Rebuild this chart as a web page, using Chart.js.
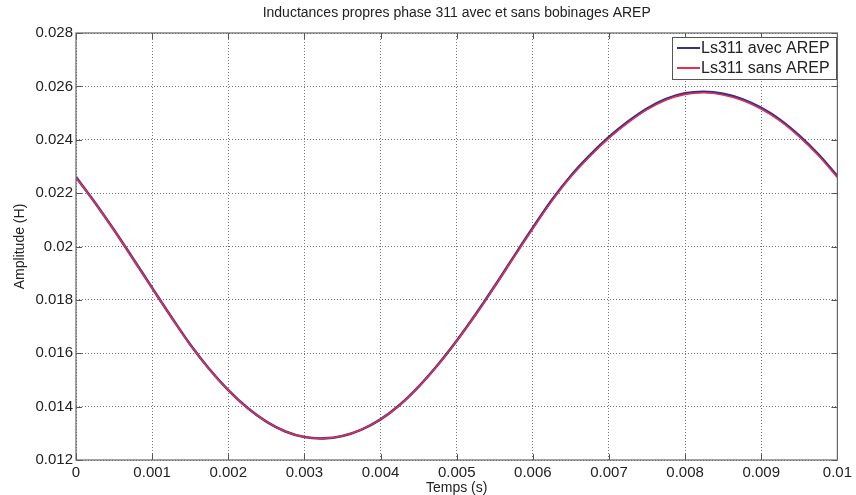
<!DOCTYPE html>
<html>
<head>
<meta charset="utf-8">
<script src="https://cdn.jsdelivr.net/npm/chart.js@4"></script>
<style>
  html, body { margin: 0; padding: 0; background: #fff; }
  #wrap { width: 856px; height: 495px; }
</style>
</head>
<body>
<div id="wrap"><canvas id="c" width="856" height="495"></canvas></div>
<script>
// ── Data (time in s, inductance in H) ──
const times = [0, 0.00025, 0.0005, 0.00075, 0.001, 0.00125, 0.0015, 0.00175, 0.002, 0.00225,
               0.0025, 0.00275, 0.003, 0.00325, 0.0035, 0.00375, 0.004, 0.00425, 0.0045, 0.00475,
               0.005, 0.00525, 0.0055, 0.00575, 0.006, 0.00625, 0.0065, 0.00675, 0.007, 0.00725,
               0.0075, 0.00775, 0.008, 0.00825, 0.0085, 0.00875, 0.009, 0.00925, 0.0095, 0.00975, 0.01];
const avecArep = [0.02260, 0.02164, 0.02062, 0.01954, 0.01845, 0.01737, 0.01633, 0.01541, 0.01462, 0.01396,
                  0.01344, 0.01307, 0.01286, 0.01281, 0.01290, 0.01314, 0.01352, 0.01406, 0.01475, 0.01556,
                  0.01647, 0.01746, 0.01852, 0.01962, 0.02070, 0.02174, 0.02265, 0.02342, 0.02410, 0.02468,
                  0.02517, 0.02553, 0.02574, 0.02580, 0.02572, 0.02552, 0.02519, 0.02474, 0.02415, 0.02345, 0.02263];
const sansArep = [0.02259, 0.02163, 0.02061, 0.01953, 0.01844, 0.01736, 0.01632, 0.01540, 0.01461, 0.01395,
                  0.01344, 0.01307, 0.01286, 0.01281, 0.01290, 0.01314, 0.01352, 0.01405, 0.01474, 0.01555,
                  0.01646, 0.01744, 0.01850, 0.01959, 0.02067, 0.02170, 0.02261, 0.02338, 0.02406, 0.02464,
                  0.02513, 0.02549, 0.02570, 0.02576, 0.02568, 0.02548, 0.02515, 0.02470, 0.02411, 0.02341, 0.02259];
const xTickValues = [0, 0.001, 0.002, 0.003, 0.004, 0.005, 0.006, 0.007, 0.008, 0.009, 0.01];
const xTickLabels = ['0', '0.001', '0.002', '0.003', '0.004', '0.005', '0.006', '0.007', '0.008', '0.009', '0.01'];
const yTickValues = [0.012, 0.014, 0.016, 0.018, 0.02, 0.022, 0.024, 0.026, 0.028];
const yTickLabels = ['0.012', '0.014', '0.016', '0.018', '0.02', '0.022', '0.024', '0.026', '0.028'];

const FONT = '"Liberation Sans", Arial, sans-serif';
const BLUE = '#2e3192';
const RED = '#e0304f';

function pts(vals) { return vals.map((v, i) => ({ x: times[i], y: v })); }

// Title, box, inward ticks and legend drawn the MATLAB way
const matlabDecor = {
  id: 'matlabDecor',
  afterDraw(chart) {
    const { ctx, chartArea: a, scales } = chart;
    ctx.save();
    // inward ticks
    ctx.strokeStyle = '#555';
    ctx.lineWidth = 1;
    ctx.beginPath();
    xTickValues.forEach(v => {
      const px = Math.round(scales.x.getPixelForValue(v)) + 0.5;
      ctx.moveTo(px, a.bottom); ctx.lineTo(px, a.bottom - 6);
      ctx.moveTo(px, a.top); ctx.lineTo(px, a.top + 6);
    });
    yTickValues.forEach(v => {
      const py = Math.round(scales.y.getPixelForValue(v)) + 0.5;
      ctx.moveTo(a.left, py); ctx.lineTo(a.left + 6, py);
      ctx.moveTo(a.right, py); ctx.lineTo(a.right - 6, py);
    });
    ctx.stroke();
    // axes box
    ctx.strokeStyle = '#666';
    ctx.lineWidth = 1.2;
    ctx.strokeRect(a.left, a.top, a.right - a.left, a.bottom - a.top);
    // title
    ctx.fillStyle = '#222';
    ctx.font = '14px ' + FONT;
    ctx.textAlign = 'center';
    ctx.textBaseline = 'middle';
    ctx.fillText('Inductances propres phase 311 avec et sans bobinages AREP', (a.left + a.right) / 2, 13);
    // legend
    const bx = 672, by = 37, bw = 164, bh = 42;
    ctx.fillStyle = '#fff';
    ctx.fillRect(bx, by, bw, bh);
    ctx.strokeStyle = '#555';
    ctx.lineWidth = 1;
    ctx.strokeRect(bx + 0.5, by + 0.5, bw, bh);
    ctx.font = '16px ' + FONT;
    ctx.textAlign = 'left';
    chart.data.datasets.forEach((ds, i) => {
      const y = by + 11 + i * 20;
      ctx.strokeStyle = ds.borderColor;
      ctx.lineWidth = 2;
      ctx.beginPath();
      ctx.moveTo(bx + 5, y); ctx.lineTo(bx + 28, y);
      ctx.stroke();
      ctx.fillStyle = '#222';
      ctx.fillText(ds.label, bx + 29, y + 1);
    });
    ctx.restore();
  }
};

new Chart(document.getElementById('c'), {
  type: 'line',
  data: {
    datasets: [
      { label: 'Ls311 avec AREP', data: pts(avecArep), borderColor: BLUE, borderWidth: 2.6, order: 1,
        pointRadius: 0, tension: 0.4, fill: false },
      { label: 'Ls311 sans AREP', data: pts(sansArep), borderColor: RED, borderWidth: 1.6, order: 0,
        pointRadius: 0, tension: 0.4, fill: false },
    ],
  },
  options: {
    responsive: false,
    animation: false,
    layout: { padding: { top: 33, right: 16, left: 0, bottom: 0 } },
    plugins: { legend: { display: false }, tooltip: { enabled: false }, title: { display: false } },
    scales: {
      x: {
        type: 'linear', min: 0, max: 0.01,
        afterBuildTicks: s => { s.ticks = xTickValues.map(v => ({ value: v })); },
        afterFit: s => { s.height = 35; },
        grid: { color: '#777', lineWidth: 1, drawTicks: false },
        border: { display: false, dash: [1, 2] },
        ticks: {
          padding: 4, color: '#222', font: { family: FONT, size: 15 }, maxRotation: 0,
          callback: v => xTickLabels[xTickValues.findIndex(t => Math.abs(t - v) < 1e-9)],
        },
        title: { display: true, text: 'Temps (s)', color: '#222', font: { family: FONT, size: 14 }, padding: { top: -4, bottom: -2 } },
      },
      y: {
        type: 'linear', min: 0.012, max: 0.028,
        afterBuildTicks: s => { s.ticks = yTickValues.map(v => ({ value: v })); },
        afterFit: s => { s.width = 76; },
        grid: { color: '#777', lineWidth: 1, drawTicks: false },
        border: { display: false, dash: [1, 2] },
        ticks: {
          padding: 3, color: '#222', font: { family: FONT, size: 15 },
          callback: v => yTickLabels[yTickValues.findIndex(t => Math.abs(t - v) < 1e-9)],
        },
        title: { display: true, text: 'Amplitude (H)', color: '#222', font: { family: FONT, size: 14 }, padding: { top: 12, bottom: 0 } },
      },
    },
  },
  plugins: [matlabDecor],
});
</script>
</body>
</html>
